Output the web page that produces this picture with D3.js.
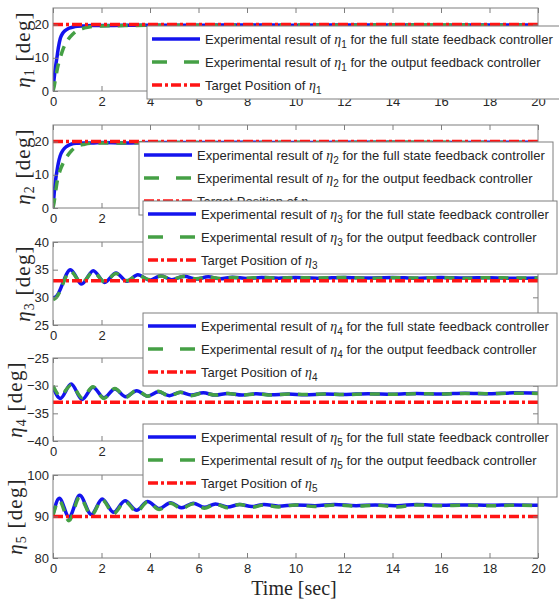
<!DOCTYPE html>
<html>
<head>
<meta charset="utf-8">
<script src="https://cdn.jsdelivr.net/npm/d3@7"></script>
<style>
  body { margin: 0; background: #fff; }
</style>
</head>
<body>
<svg id="chart" width="559" height="599"></svg>
<script>
// x axis ticks shared by every panel
const timeTicks = [0, 2, 4, 6, 8, 10, 12, 14, 16, 18, 20]

// eta 1
const t1 = [0, 0.05, 0.1, 0.16, 0.22, 0.3, 0.4, 0.5, 0.6, 0.8, 1.0, 1.3, 1.6, 2, 3, 4, 6, 8, 10, 12, 14, 16, 18, 20]
const full1 = [0, 4, 7, 10, 13, 15.8, 17.4, 18.2, 18.7, 19.2, 19.5, 19.6, 19.7, 19.7, 19.8, 19.8, 19.8, 19.9, 19.8, 19.9, 19.9, 19.8, 19.9, 19.9]
const out1 = [0, 1.5, 3.5, 6, 8, 10, 12.3, 14, 15.3, 17, 18.2, 19, 19.4, 19.6, 19.7, 19.8, 19.8, 19.8, 19.9, 19.8, 19.9, 19.9, 19.8, 19.9]
const target1 = 20

// eta 2
const t2 = [0, 0.05, 0.1, 0.16, 0.22, 0.3, 0.42, 0.55, 0.77, 1.0, 1.3, 1.6, 2, 3, 4, 6, 8, 10, 12, 14, 16, 18, 20]
const full2 = [0, 4.5, 8, 11, 13.5, 15.8, 17.5, 18.5, 19.3, 19.5, 19.6, 19.6, 19.7, 19.6, 19.7, 19.7, 19.8, 19.7, 19.8, 19.8, 19.7, 19.8, 19.8]
const out2 = [0, 2, 4.5, 7.5, 9.5, 11.5, 13.5, 15.2, 17.3, 18.6, 19.2, 19.5, 19.6, 19.6, 19.7, 19.7, 19.7, 19.8, 19.7, 19.8, 19.8, 19.7, 19.8]
const target2 = 20

// eta 3
const t3 = [0, 0.12, 0.72, 1.18, 1.66, 2.13, 2.6, 3.05, 3.5, 3.98, 4.45, 4.9, 5.4, 5.9, 6.4, 6.9, 7.4, 8, 8.6, 9.3, 10, 11, 12, 13, 14, 15, 16, 17, 18, 19, 20]
const full3 = [29.9, 30.1, 35.0, 32.4, 34.8, 32.7, 34.4, 32.9, 34.1, 33.1, 33.9, 33.2, 33.8, 33.3, 33.7, 33.35, 33.65, 33.4, 33.6, 33.45, 33.6, 33.45, 33.6, 33.5, 33.6, 33.45, 33.6, 33.5, 33.55, 33.45, 33.5]
const out3 = [29.6, 29.9, 34.7, 32.6, 34.6, 32.8, 34.3, 33.0, 34.0, 33.2, 33.85, 33.3, 33.75, 33.35, 33.65, 33.4, 33.6, 33.45, 33.6, 33.5, 33.55, 33.5, 33.6, 33.45, 33.55, 33.5, 33.55, 33.45, 33.55, 33.5, 33.5]
const target3 = 33

// eta 4
const t4 = [0, 0.3, 0.75, 1.2, 1.65, 2.1, 2.55, 3.0, 3.45, 3.9, 4.35, 4.8, 5.25, 5.7, 6.2, 6.7, 7.2, 7.8, 8.4, 9, 9.7, 10.4, 11.2, 12, 13, 14, 15, 16, 17, 18, 19, 20]
const full4 = [-30.3, -32.3, -29.7, -32.5, -30.3, -32.2, -30.6, -32.0, -30.9, -31.9, -31.1, -31.8, -31.2, -31.7, -31.3, -31.7, -31.4, -31.7, -31.45, -31.65, -31.5, -31.65, -31.5, -31.6, -31.45, -31.55, -31.4, -31.5, -31.35, -31.45, -31.3, -31.35]
const out4 = [-30.0, -31.8, -29.9, -32.2, -30.2, -32.3, -30.5, -32.1, -30.8, -31.9, -31.0, -31.9, -31.2, -31.8, -31.3, -31.7, -31.4, -31.7, -31.5, -31.7, -31.5, -31.6, -31.5, -31.6, -31.5, -31.55, -31.45, -31.5, -31.4, -31.45, -31.35, -31.4]
const target4 = -33

// eta 5
const t5 = [0, 0.26, 0.66, 1.1, 1.58, 2.03, 2.5, 2.97, 3.45, 3.9, 4.38, 4.85, 5.3, 5.78, 6.25, 6.7, 7.2, 7.7, 8.2, 8.7, 9.3, 10, 10.8, 11.6, 12.5, 13.3, 14.2, 15, 16, 17, 18, 19, 20]
const full5 = [90.5, 94.4, 89.9, 95.1, 90.5, 94.2, 91.0, 93.8, 91.5, 93.6, 91.9, 93.3, 92.1, 93.2, 92.2, 93.0, 92.3, 92.9, 92.4, 92.9, 92.5, 92.8, 92.6, 92.9, 92.6, 92.8, 92.6, 92.9, 92.7, 92.8, 92.7, 92.8, 92.7]
const out5 = [90.3, 93.8, 89.0, 94.7, 90.3, 94.0, 90.7, 93.6, 91.2, 93.5, 91.7, 93.2, 91.9, 93.1, 92.0, 93.0, 92.1, 92.9, 92.2, 92.8, 92.3, 92.8, 92.4, 92.8, 92.5, 92.7, 92.3, 92.8, 92.6, 92.7, 92.6, 92.7, 92.6]
const target5 = 90

const yDomains = [[0, 25], [0, 25], [25, 40], [-40, -25], [80, 100]]
const yTicks = [[0, 10, 20], [0, 10, 20], [25, 30, 35, 40], [-40, -35, -30, -25], [80, 90, 100]]

const panels = [
  { sub: '1', t: t1, full: full1, out: out1, target: target1 },
  { sub: '2', t: t2, full: full2, out: out2, target: target2 },
  { sub: '3', t: t3, full: full3, out: out3, target: target3 },
  { sub: '4', t: t4, full: full4, out: out4, target: target4 },
  { sub: '5', t: t5, full: full5, out: out5, target: target5 }
]

const BLUE = '#1414ee'
const GREEN = '#45a045'
const RED = '#ff1414'
const AXIS = '#7f7f7f'
const TEXT = '#262626'
const SANS = "'Liberation Sans', Arial, sans-serif"
const SERIF = "'Liberation Serif', 'Times New Roman', serif"

const svg = d3.select('#chart')
const left = 53
const right = 538
const panelTop = [8, 125, 242, 358, 475]
const panelH = 83
const yLabelX = [30, 30, 30, 22, 22]
const legendPos = [[147, 26], [139, 142], [143, 201], [143, 313], [143, 424]]

const x = d3.scaleLinear().domain([0, 20]).range([left, right])

function styleAxis (g) {
  g.select('.domain').remove()
  g.selectAll('.tick line').attr('stroke', AXIS)
  g.selectAll('.tick text')
    .attr('fill', TEXT)
    .style('font-family', SANS)
    .style('font-size', '13px')
}

function drawLegend (p, lx, ly) {
  const lg = svg.append('g').attr('transform', `translate(${lx},${ly})`)
  lg.append('rect')
    .attr('width', 414)
    .attr('height', 73)
    .attr('fill', '#fff')
    .attr('stroke', AXIS)
  const items = [
    { pre: 'Experimental result of ', post: ' for the full state feedback controller', color: BLUE, dash: null },
    { pre: 'Experimental result of ', post: ' for the output feedback controller', color: GREEN, dash: '15,17' },
    { pre: 'Target Position of ', post: '', color: RED, dash: '10,3,3,3' }
  ]
  items.forEach((d, i) => {
    const ry = 13 + i * 23
    lg.append('line')
      .attr('x1', 5).attr('x2', 53)
      .attr('y1', ry).attr('y2', ry)
      .attr('stroke', d.color)
      .attr('stroke-width', 3.5)
      .attr('stroke-dasharray', d.dash)
    const txt = lg.append('text')
      .attr('x', 58)
      .attr('y', ry + 4.5)
      .attr('fill', TEXT)
      .style('font-family', SANS)
      .style('font-size', '13px')
    txt.append('tspan').text(d.pre)
    txt.append('tspan').style('font-family', SERIF).style('font-style', 'italic').style('font-size', '14px').text('η')
    txt.append('tspan').attr('dy', 4).style('font-size', '10px').text(p.sub)
    txt.append('tspan').attr('dy', -4).text(d.post)
  })
}

panels.forEach((p, i) => {
  const top = panelTop[i]
  const bottom = top + panelH
  const y = d3.scaleLinear().domain(yDomains[i]).range([bottom, top])

  svg.append('rect')
    .attr('x', left).attr('y', top)
    .attr('width', right - left).attr('height', panelH)
    .attr('fill', '#fff')

  svg.append('clipPath').attr('id', 'clip' + i)
    .append('rect')
    .attr('x', left).attr('y', top)
    .attr('width', right - left).attr('height', panelH)

  const line = d3.line()
    .x(d => x(d[0]))
    .y(d => y(d[1]))
    .curve(d3.curveMonotoneX)

  const plot = svg.append('g').attr('clip-path', `url(#clip${i})`)
  plot.append('path')
    .datum(d3.zip(p.t, p.full))
    .attr('d', line)
    .attr('fill', 'none')
    .attr('stroke', BLUE)
    .attr('stroke-width', 3.5)
  plot.append('path')
    .datum(d3.zip(p.t, p.out))
    .attr('d', line)
    .attr('fill', 'none')
    .attr('stroke', GREEN)
    .attr('stroke-width', 3.5)
    .attr('stroke-dasharray', '10,8')
  plot.append('path')
    .datum([[0, p.target], [20, p.target]])
    .attr('d', line)
    .attr('fill', 'none')
    .attr('stroke', RED)
    .attr('stroke-width', 3.5)
    .attr('stroke-dasharray', '10,3,3,3')

  svg.append('g')
    .attr('transform', `translate(0,${bottom})`)
    .call(d3.axisBottom(x).tickValues(timeTicks).tickSize(-5).tickPadding(6))
    .call(styleAxis)
  svg.append('g')
    .attr('transform', `translate(0,${top})`)
    .call(d3.axisTop(x).tickValues(timeTicks).tickSize(-5).tickFormat(''))
    .call(styleAxis)
  svg.append('g')
    .attr('transform', `translate(${left},0)`)
    .call(d3.axisLeft(y).tickValues(yTicks[i]).tickSize(-5).tickPadding(4))
    .call(styleAxis)
  svg.append('g')
    .attr('transform', `translate(${right},0)`)
    .call(d3.axisRight(y).tickValues(yTicks[i]).tickSize(-5).tickFormat(''))
    .call(styleAxis)

  svg.append('rect')
    .attr('x', left).attr('y', top)
    .attr('width', right - left).attr('height', panelH)
    .attr('fill', 'none')
    .attr('stroke', AXIS)

  const yl = svg.append('text')
    .attr('transform', `translate(${yLabelX[i]},${top + panelH / 2}) rotate(-90)`)
    .attr('text-anchor', 'middle')
    .attr('fill', TEXT)
    .style('font-family', SERIF)
    .style('font-size', '21px')
    .style('letter-spacing', '1.2px')
  yl.append('tspan').style('font-style', 'italic').text('η')
  yl.append('tspan').attr('dy', 4).style('font-size', '14px').text(p.sub)
  yl.append('tspan').attr('dy', -4).text('\u00a0[deg]')

  drawLegend(p, legendPos[i][0], legendPos[i][1])
})

svg.append('text')
  .attr('x', 294)
  .attr('y', 595)
  .attr('text-anchor', 'middle')
  .attr('fill', TEXT)
  .style('font-family', SERIF)
  .style('font-size', '20px')
  .text('Time [sec]')
</script>
</body>
</html>
